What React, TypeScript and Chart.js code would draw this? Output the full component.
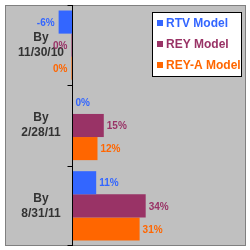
import React, { useEffect, useRef } from "react";
import { Chart, registerables } from "chart.js";

Chart.register(...registerables);

const categories = [["By", "11/30/10"], ["By", "2/28/11"], ["By", "8/31/11"]];
const seriesNames = ["RTV Model", "REY Model", "REY-A Model"];
const rtvValues = [-6.3, 0, 11];
const reyValues = [-0.4, 14.5, 33.8];
const reyAValues = [-0.4, 11.6, 31];
const seriesColors = ["#3366FF", "#993366", "#FF6600"];
const xMin = -31;
const xMax = 80;

const fmt = (v: number) => {
  const r = Math.round(v);
  return `${r === 0 ? 0 : r}%`;
};

const decorPlugin = {
  id: "decor",
  beforeDraw(chart: any) {
    const { ctx, chartArea } = chart;
    ctx.save();
    ctx.fillStyle = "#ffffff";
    ctx.fillRect(0, 0, chart.width, chart.height);
    ctx.fillStyle = "#C0C0C0";
    ctx.fillRect(chartArea.left, chartArea.top, chartArea.right - chartArea.left, chartArea.bottom - chartArea.top);
    ctx.restore();
  },
  afterDatasetsDraw(chart: any) {
    const { ctx, chartArea } = chart;
    const xs = chart.scales.x;
    const ys = chart.scales.y;
    ctx.save();
    // border
    ctx.strokeStyle = "#808080";
    ctx.lineWidth = 1;
    ctx.strokeRect(chartArea.left + 0.5, chartArea.top + 0.5, chartArea.right - chartArea.left - 1, chartArea.bottom - chartArea.top - 1);
    // category axis at zero
    const x0 = Math.floor(xs.getPixelForValue(0)) + 0.5;
    ctx.strokeStyle = "#000000";
    ctx.beginPath();
    ctx.moveTo(x0, chartArea.top);
    ctx.lineTo(x0, chartArea.bottom);
    const n = categories.length;
    const step = (chartArea.bottom - chartArea.top) / n;
    for (let i = 0; i <= n; i++) {
      let y = Math.round(chartArea.top + i * step);
      if (i === n) y = chartArea.bottom - 1;
      ctx.moveTo(x0 - 5, y + 0.5);
      ctx.lineTo(x0, y + 0.5);
    }
    ctx.stroke();
    // category labels
    ctx.fillStyle = "#333333";
    ctx.font = "bold 12px 'Liberation Sans', Arial, sans-serif";
    ctx.textAlign = "center";
    ctx.textBaseline = "middle";
    categories.forEach((lines, i) => {
      const yc = ys.getPixelForValue(i);
      lines.forEach((t, j) => {
        ctx.fillText(t, 41, yc + (j - (lines.length - 1) / 2) * 15);
      });
    });
    // data labels
    ctx.font = "bold 10px 'Liberation Sans', Arial, sans-serif";
    chart.data.datasets.forEach((ds: any, di: number) => {
      const meta = chart.getDatasetMeta(di);
      meta.data.forEach((bar: any, i: number) => {
        const v = ds.data[i];
        ctx.fillStyle = ds.backgroundColor;
        if (v < 0) {
          ctx.textAlign = "right";
          ctx.fillText(fmt(v), bar.x - 4, bar.y + 1);
        } else {
          ctx.textAlign = "left";
          ctx.fillText(fmt(v), Math.max(bar.x, x0) + 3, bar.y + 1);
        }
      });
    });
    // legend
    const bw = 90;
    const bh = 65;
    const bx = chartArea.right - 4 - bw;
    const by = chartArea.top + 7;
    ctx.fillStyle = "#ffffff";
    ctx.fillRect(bx, by, bw, bh);
    ctx.strokeStyle = "#000000";
    ctx.strokeRect(bx + 0.5, by + 0.5, bw - 1, bh - 1);
    ctx.font = "bold 12px 'Liberation Sans', Arial, sans-serif";
    ctx.textAlign = "left";
    chart.data.datasets.forEach((ds: any, di: number) => {
      const yc = by + 11 + di * 21;
      ctx.fillStyle = ds.backgroundColor;
      ctx.fillRect(bx + 5, yc - 3, 6, 6);
      ctx.fillText(ds.label, bx + 14, yc + 1);
    });
    ctx.restore();
  },
};

export default function App() {
  const ref = useRef<HTMLCanvasElement>(null);
  useEffect(() => {
    if (!ref.current) return;
    const chart = new Chart(ref.current, {
      type: "bar",
      data: {
        labels: categories.map((c) => c.join(" ")),
        datasets: [rtvValues, reyValues, reyAValues].map((d, i) => ({
          label: seriesNames[i],
          data: d,
          backgroundColor: seriesColors[i],
          borderWidth: 0,
          barPercentage: 1,
          categoryPercentage: 0.8625,
        })),
      },
      options: {
        indexAxis: "y",
        responsive: false,
        animation: false,
        devicePixelRatio: 1,
        layout: { padding: { left: 5, top: 5, right: 4, bottom: 4 } },
        plugins: { legend: { display: false }, tooltip: { enabled: false } },
        scales: {
          x: { display: false, min: xMin, max: xMax },
          y: { display: false, offset: true },
        },
      },
      plugins: [decorPlugin],
    });
    return () => chart.destroy();
  }, []);
  return (
    <div style={{ position: "absolute", left: 0, top: 0, width: 250, height: 250 }}>
      <canvas ref={ref} width={250} height={250} />
    </div>
  );
}
